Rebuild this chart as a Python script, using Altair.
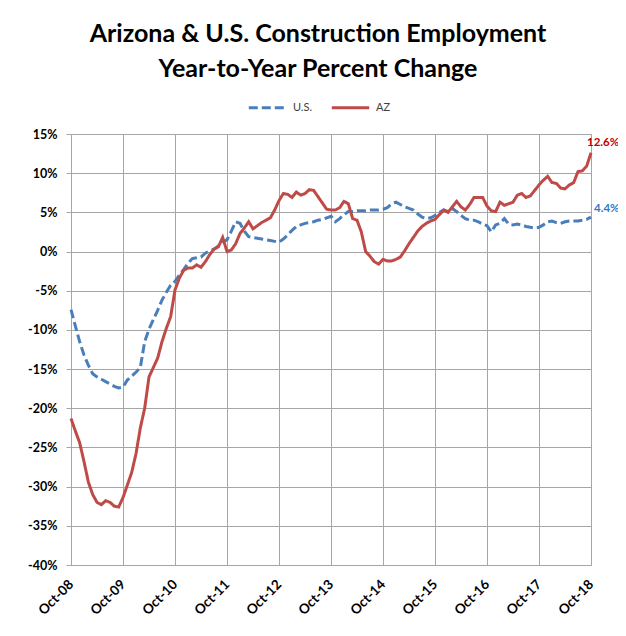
import altair as alt
import pandas as pd

# month index 0 = Oct-08 ... 120 = Oct-18
months = list(range(121))

us = [-7.4, -9.5, -11.5, -13.2, -14.5, -15.6, -16.0, -16.3, -16.6, -16.9, -17.2, -17.4,
      -17.3, -16.4, -15.9, -15.4, -14.8, -11.5, -9.9, -8.7, -7.5, -6.2, -5.2, -4.3,
      -3.8, -3.0, -2.3, -1.5, -0.9, -0.8, -0.7, -0.2, 0.1, 0.3, 0.7, 1.2,
      1.5, 2.6, 3.8, 3.6, 2.6, 1.9, 1.8, 1.7, 1.6, 1.5, 1.4, 1.3,
      1.2, 1.6, 2.1, 2.7, 3.2, 3.4, 3.6, 3.7, 3.8, 4.0, 4.1, 4.3,
      4.5, 3.8, 4.2, 4.7, 5.1, 5.1, 5.2, 5.2, 5.2, 5.3, 5.3, 5.3,
      5.4, 5.6, 6.1, 6.3, 6.0, 5.7, 5.5, 5.3, 4.8, 4.4, 4.2, 4.3,
      4.6, 5.0, 5.3, 5.1, 5.5, 5.1, 4.6, 4.2, 4.0, 4.0, 3.8, 3.5,
      3.3, 2.5, 3.4, 3.6, 4.2, 3.5, 3.4, 3.5, 3.4, 3.2, 3.1, 3.0,
      3.1, 3.4, 3.8, 3.9, 3.7, 3.6, 3.8, 3.9, 3.9, 3.9, 4.0, 4.1,
      4.4]

az = [-21.3, -22.9, -24.4, -26.8, -29.4, -31.0, -32.0, -32.3, -31.8, -32.0, -32.5, -32.6,
      -31.4, -29.8, -28.2, -25.8, -22.5, -20.0, -16.0, -14.8, -13.6, -11.5, -9.8, -8.3,
      -4.9, -3.4, -2.4, -2.1, -2.1, -1.7, -2.0, -1.3, -0.4, 0.3, 0.6, 1.8,
      0.0, 0.2, 1.0, 2.3, 3.0, 3.8, 2.9, 3.3, 3.7, 4.0, 4.3, 5.3,
      6.5, 7.4, 7.3, 6.9, 7.6, 7.2, 7.4, 7.9, 7.8, 7.0, 6.2, 5.4,
      5.3, 5.3, 5.6, 6.4, 6.1, 4.2, 4.0, 2.5, 0.0, -0.6, -1.3, -1.6,
      -1.0, -1.2, -1.2, -1.0, -0.7, 0.1, 1.0, 1.8, 2.6, 3.2, 3.6, 3.9,
      4.1, 4.7, 5.3, 5.0, 5.7, 6.4, 5.7, 5.3, 6.0, 6.9, 6.9, 6.9,
      5.8, 5.2, 5.1, 6.3, 5.9, 6.1, 6.3, 7.2, 7.4, 6.9, 7.1, 7.8,
      8.5, 9.1, 9.6, 8.8, 8.7, 8.1, 8.0, 8.5, 8.8, 10.2, 10.3, 10.9,
      12.6]

tick_labels = ["Oct-08", "Oct-09", "Oct-10", "Oct-11", "Oct-12", "Oct-13",
               "Oct-14", "Oct-15", "Oct-16", "Oct-17", "Oct-18"]
tick_values = [0, 12, 24, 36, 48, 60, 72, 84, 96, 108, 120]
y_ticks = [-40, -35, -30, -25, -20, -15, -10, -5, 0, 5, 10, 15]

series = ["U.S.", "AZ"]
series_colors = ["#4a7ebb", "#be4b48"]

end_labels = ["4.4%", "12.6%"]
end_values = [4.4, 12.6]
end_colors = ["#2e7bc4", "#c00000"]

rows = []
for m, u, a in zip(months, us, az):
    rows.append({"m": m, "v": u, "s": "U.S."})
    rows.append({"m": m, "v": a, "s": "AZ"})
df = pd.DataFrame(rows)

FONT = "Lato"
label_expr = "[" + ",".join("'%s'" % t for t in tick_labels) + "][round(datum.value/12)]"

legend = alt.Legend(title=None, orient="none", legendX=176, legendY=-47, direction="horizontal",
                    symbolType="stroke", symbolSize=1400, symbolStrokeWidth=3,
                    labelFont=FONT, labelFontSize=11, labelColor="#404040",
                    columnPadding=12, labelOffset=5)

xscale = alt.Scale(domain=[0, 120], nice=False, zero=False)
yscale = alt.Scale(domain=[-40, 15], nice=False, zero=False)

xaxis = alt.Axis(values=tick_values, labelExpr=label_expr, labelAngle=-45,
                 labelAlign="right", labelBaseline="middle", labelPadding=17,
                 labelFont=FONT, labelFontSize=13.5, labelFontWeight="bold",
                 labelColor="#000000", ticks=False, tickSize=0,
                 domainColor="#a6a6a6", gridColor="#a6a6a6", grid=True,
                 labelOverlap=False, labelBound=False)
yaxis = alt.Axis(values=y_ticks, labelExpr="datum.value + '%'",
                 labelFont=FONT, labelFontSize=12.5, labelFontWeight="bold",
                 labelColor="#000000", tickSize=5, tickColor="#a6a6a6",
                 domainColor="#a6a6a6", gridColor="#a6a6a6", grid=True,
                 labelPadding=9, labelOverlap=False, labelBound=False)

X = alt.X("m:Q", title=None, scale=xscale, axis=xaxis)
Y = alt.Y("v:Q", title=None, scale=yscale, axis=yaxis)

lines = alt.Chart(df).mark_line(strokeWidth=3).encode(
    x=X, y=Y,
    color=alt.Color("s:N", scale=alt.Scale(domain=series, range=series_colors), legend=legend),
    strokeDash=alt.StrokeDash("s:N", scale=alt.Scale(domain=series, range=[[9, 4], [1, 0]]),
                              legend=legend),
    order=alt.Order("m:Q"),
)

lab_df = pd.DataFrame({"m": [120, 120], "v": end_values, "t": end_labels, "c": end_colors})

lab_us = alt.Chart(lab_df).transform_filter("datum.t == '4.4%'").mark_text(
    align="left", baseline="middle", dx=3, dy=-8, font=FONT, fontSize=11.5, fontWeight="bold"
).encode(x=X, y=Y, text="t:N", color=alt.value(end_colors[0]))

lab_az = alt.Chart(lab_df).transform_filter("datum.t == '12.6%'").mark_text(
    align="left", baseline="middle", dx=-4, dy=-10, font=FONT, fontSize=11.5, fontWeight="bold"
).encode(x=X, y=Y, text="t:N", color=alt.value(end_colors[1]))

chart = alt.layer(lines, lab_us, lab_az).properties(
    width=520, height=431,
    autosize=alt.AutoSizeParams(type="none"),
    padding={"left": 63, "top": 126, "right": 27, "bottom": 63},
    title=alt.TitleParams(
        text=["Arizona & U.S. Construction Employment", "Year-to-Year Percent Change"],
        font=FONT, fontSize=25, fontWeight="bold", color="#000000",
        anchor="middle", dx=-13, offset=5, lineHeight=35,
    ),
).configure_view(stroke="#a6a6a6", strokeWidth=1).configure_axisY(
    labelOverlap=False
).configure(background="white")

chart.save("out.html", embed_options={"renderer": "svg", "actions": False})
